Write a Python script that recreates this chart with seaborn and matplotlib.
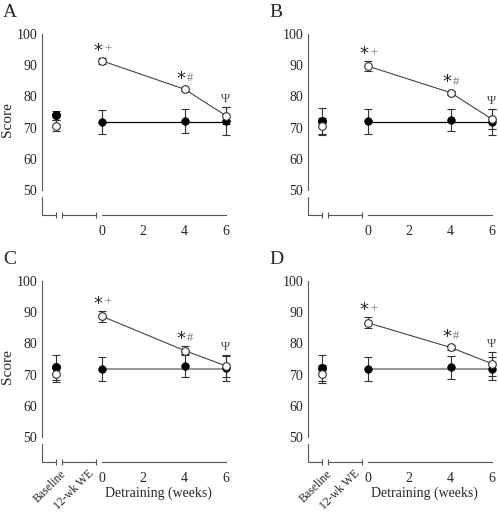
import matplotlib
matplotlib.use("Agg")
import matplotlib.pyplot as plt
import seaborn as sns
import pandas as pd

sns.set_style("white")
plt.rcParams['font.family'] = ['Liberation Serif', 'DejaVu Serif']

# ---- data ----
panels = ["A", "B", "C", "D"]
weeks = [0, 4, 6]

# filled circles (control)
ctrl_base = [74.0, 72.2, 72.3, 72.0]
ctrl_base_err = [1.4, 4.2, 4.1, 4.2]
ctrl_detr = [[71.7, 72.2, 72.1], [72.1, 72.4, 71.8], [71.7, 72.8, 72.0], [71.8, 72.3, 71.9]]
ctrl_detr_err = [[3.9, 3.8, 4.4], [4.0, 3.6, 4.2], [3.9, 3.7, 4.0], [3.9, 3.6, 3.6]]
ctrl_level = [71.7, 71.9, 71.8, 71.7]

# open circles (exercise)
ex_base = [70.6, 70.4, 70.2, 70.2]
ex_base_err = [1.8, 2.7, 2.7, 2.9]
ex_detr = [[91.4, 82.3, 73.8], [89.7, 81.2, 72.7], [88.7, 77.7, 72.8], [86.6, 78.7, 73.5]]
ex_detr_err = [[1.0, 0.5, 2.7], [1.6, 0.6, 3.2], [1.7, 1.5, 3.6], [1.8, 0.8, 3.8]]

star_marks = ["*", "*", ""]
sig_marks = ["+", "#", "Ψ"]

# ---- layout ----
W, H = 498, 515
BASE_X = -2.23
WK_LO, WK_HI = -1.94, -0.29
X_LEFT = -2.9
Y_BOT = 42
axis_col = "#555555"

fig = plt.figure(figsize=(W / 100, H / 100), dpi=100)
boxes = [(42, 34), (308, 34), (42, 281), (308, 281)]

for i, p in enumerate(panels):
    lx, ty = boxes[i]
    ax = fig.add_axes([lx / W, 1 - (ty + 181) / H, 184 / W, 181 / H])

    df = pd.DataFrame({"week": weeks, "ctrl": ctrl_detr[i], "ex": ex_detr[i]})

    # control: error bars, flat line, markers
    ax.errorbar(weeks, ctrl_detr[i], yerr=ctrl_detr_err[i], fmt="none",
                ecolor="#333333", elinewidth=0.8, capsize=3, capthick=0.8, clip_on=False)
    ax.errorbar([BASE_X], [ctrl_base[i]], yerr=[ctrl_base_err[i]], fmt="none",
                ecolor="#333333", elinewidth=0.8, capsize=3, capthick=0.8)
    lvl_col = "black" if i < 2 else "#9a9a9a"
    lvl_lw = 0.9 if i < 2 else 1.5
    sns.lineplot(x=[weeks[0], weeks[-1]], y=[ctrl_level[i]] * 2, ax=ax,
                 color=lvl_col, lw=lvl_lw, clip_on=False)
    sns.scatterplot(data=df, x="week", y="ctrl", ax=ax, color="black", s=30,
                    edgecolor="black", linewidth=0.5, zorder=4, clip_on=False)
    ax.plot([BASE_X], [ctrl_base[i]], "o", color="black", ms=5.5, zorder=4)

    # exercise: error bars, line, open markers
    ax.errorbar(weeks, ex_detr[i], yerr=ex_detr_err[i], fmt="none",
                ecolor="#333333", elinewidth=0.8, capsize=3, capthick=0.8, clip_on=False)
    ax.errorbar([BASE_X], [ex_base[i]], yerr=[ex_base_err[i]], fmt="none",
                ecolor="#333333", elinewidth=0.8, capsize=3, capthick=0.8)
    sns.lineplot(data=df, x="week", y="ex", ax=ax, color="#444444", lw=0.8,
                 marker="o", ms=5.5, markerfacecolor="white", markeredgecolor="#333333",
                 markeredgewidth=0.8, zorder=5, clip_on=False)
    ax.plot([BASE_X], [ex_base[i]], "o", ms=5.5, markerfacecolor="white",
            markeredgecolor="#333333", markeredgewidth=0.8, zorder=5)

    # significance marks
    for w, v, e, s1, s2 in zip(weeks, ex_detr[i], ex_detr_err[i], star_marks, sig_marks):
        top = v + max(e, 1.0) + 0.6
        if s1:
            ax.text(w - 0.17, top - 1.2, s1, ha="center", va="bottom", fontsize=13,
                    color="#222222", fontfamily="DejaVu Sans")
            ax.text(w + 0.27, top, s2, ha="center", va="bottom", fontsize=9, color="#777777")
        else:
            ax.text(w, top, s2, ha="center", va="bottom", fontsize=9, color="#444444")

    # axes
    ax.set_xlim(X_LEFT, 6)
    ax.set_ylim(Y_BOT, 100)
    ax.set_xlabel("")
    ax.set_ylabel("")
    for s in ["top", "right"]:
        ax.spines[s].set_visible(False)
    ax.spines["left"].set_bounds(50, 100)
    ax.spines["bottom"].set_bounds(0, 6)
    for s in ["left", "bottom"]:
        ax.spines[s].set_color(axis_col)
        ax.spines[s].set_linewidth(0.8)
    ax.set_yticks([50, 60, 70, 80, 90, 100])
    ax.set_xticks([0, 2, 4, 6])
    ax.tick_params(axis="y", direction="out", length=3, width=0.8, color=axis_col,
                   pad=0.5, labelsize=10)
    ax.tick_params(axis="x", direction="inout", length=5, width=0.8, color=axis_col,
                   pad=5, labelsize=10)
    ax.set_facecolor("none")

    # broken lower axis pieces
    ax.plot([X_LEFT, X_LEFT, BASE_X], [47.8, Y_BOT, Y_BOT], color=axis_col, lw=0.8, clip_on=False)
    ax.plot([BASE_X], [Y_BOT], marker="|", ms=5, mew=0.8, color=axis_col, clip_on=False)
    ax.plot([WK_LO, WK_HI], [Y_BOT, Y_BOT], color=axis_col, lw=0.8, marker="|", ms=5,
            mew=0.8, clip_on=False)

    if i >= 2:
        xt = ax.get_xaxis_transform()
        ax.text(BASE_X + 0.2, -0.03, "Baseline", rotation=45, ha="right", va="top",
                rotation_mode="anchor", fontsize=8.5, transform=xt)
        ax.text(-0.7, -0.03, "12-wk WE", rotation=45, ha="right", va="top",
                rotation_mode="anchor", fontsize=8.5, transform=xt)
        ax.text(2.75, -0.175, "Detraining (weeks)", ha="center", va="center",
                fontsize=10, transform=xt)
    if i % 2 == 0:
        fig.text(8 / W, 1 - (ty + 86) / H, "Score", rotation=90, ha="center",
                 va="center", fontsize=11)

    fig.text((boxes[i][0] - 39) / W, 1 - (ty - 30) / H, p, ha="left", va="top", fontsize=14)

fig.savefig("out.png", dpi=100)
